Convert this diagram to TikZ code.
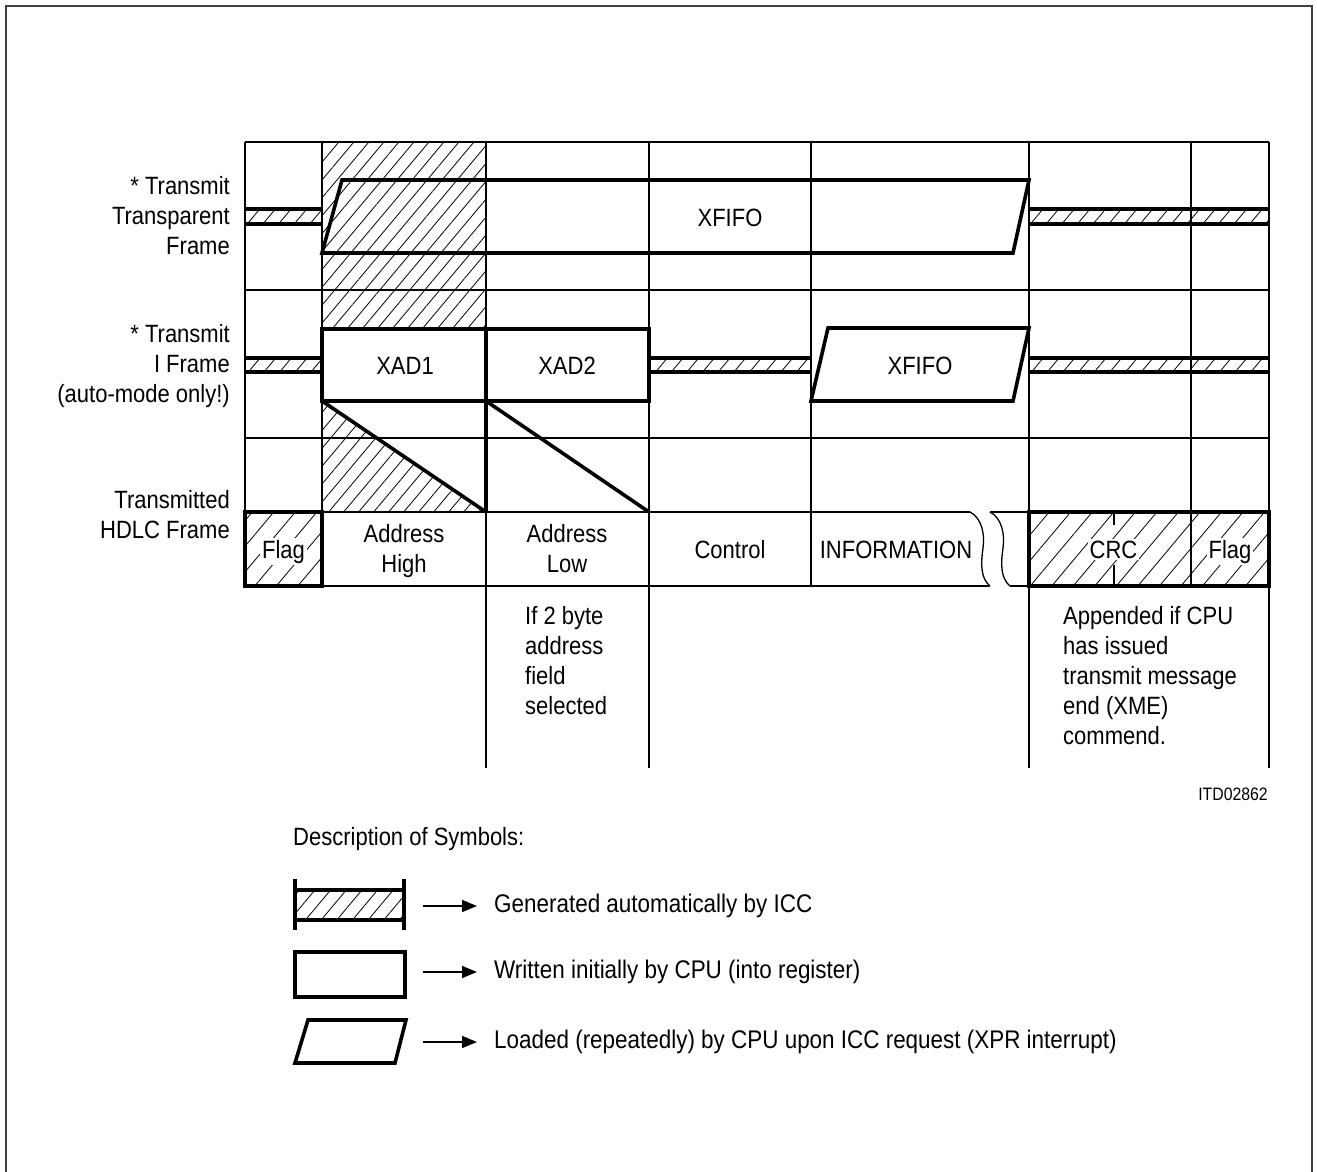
\documentclass[tikz,border=0pt]{standalone}
\usepackage{fontspec}
\setmainfont{Liberation Sans}[FakeStretch=0.88]
\usetikzlibrary{patterns.meta,arrows.meta}
\begin{document}
\begin{tikzpicture}[x=1pt,y=-1pt,
  gridline/.style={line width=1.3pt},
  boldline/.style={line width=3.6pt},
  framestyle/.style={line width=1.5pt,black!75},
  hatchcol/.style={pattern={Lines[angle=50,distance=11.5pt,line width=0.8pt]}},
  hatchband/.style={pattern={Lines[angle=50,distance=12pt,line width=0.8pt]}},
  hatchbox/.style={pattern={Lines[angle=50,distance=16.5pt,line width=0.8pt]}},
  lbl/.style={font=\fontsize{25}{30}\selectfont, inner sep=0pt},
  leglbl/.style={font=\fontsize{25.5}{30}\selectfont, inner sep=0pt},
  smalllbl/.style={font=\fontsize{18}{22}\selectfont, inner sep=0pt},
  legarrow/.style={line width=1.3pt,-{Triangle[length=15pt,width=12pt]},shorten >=17pt},
]
\useasboundingbox (0,0) rectangle (1317,1172);
% outer frame
\draw[framestyle] (6,1172) -- (6,6) -- (1312,6) -- (1312,1172);

% hatched areas
\path[hatchcol] (322,142) rectangle (486,329);
\path[hatchcol] (322,401) -- (486,512) -- (322,512) -- cycle;
\path[hatchbox] (245,512) rectangle (322,586);
\path[hatchbox] (1029,512) rectangle (1269,586);
\foreach \xa/\xb/\ya/\yb in {245/322/209/224, 1029/1269/209/224, 245/322/358/372, 649/811/358/372, 1029/1269/358/372} {
  \path[hatchband] (\xa,\ya) rectangle (\xb,\yb);
  \draw[boldline] (\xa,\ya) -- (\xb,\ya) (\xa,\yb) -- (\xb,\yb);
}

% grid
\draw[gridline] (245,142) -- (1269,142) (245,290) -- (1269,290) (245,438) -- (1269,438);
\draw[gridline] (245,512) -- (970,512) (990,512) -- (1269,512);
\draw[gridline] (245,586) -- (990,586) (1010,586) -- (1269,586);
\draw[gridline] (245,142) -- (245,586) (322,142) -- (322,586) (811,142) -- (811,586) (1191,142) -- (1191,586);
\draw[gridline] (486,142) -- (486,768) (649,142) -- (649,768) (1029,142) -- (1029,768) (1269,142) -- (1269,768);
% wavy break
\draw[gridline] (970,512) .. controls (982,518) and (985,535) .. (983,548) .. controls (981,562) and (980,578) .. (990,586);
\draw[gridline] (990,512) .. controls (1002,518) and (1005,535) .. (1003,548) .. controls (1001,562) and (1000,578) .. (1010,586);
% CRC ticks
\draw[gridline] (1114,512) -- (1114,525) (1114,565) -- (1114,586);

% bold shapes
\draw[boldline] (322,253) -- (342,180) -- (1029,180) -- (1013,253) -- cycle;
\draw[boldline] (322,329) rectangle (486,401);
\draw[boldline] (486,329) rectangle (649,401);
\draw[boldline] (811,401) -- (828,328) -- (1029,328) -- (1013,401) -- cycle;
\draw[boldline] (322,401) -- (486,512);
\draw[boldline] (486,401) -- (486,512);
\draw[boldline] (486,401) -- (649,512);
\draw[boldline] (245,512) rectangle (322,586);
\draw[boldline] (1029,512) rectangle (1269,586);

% row labels
\node[lbl, align=right, anchor=north east] (lblT) at (230,176) {* Transmit\\Transparent\\Frame};
\node[lbl, align=right, anchor=north east] (lblI) at (230,324) {* Transmit\\I Frame\\(auto-mode only!)};
\node[lbl, align=right, anchor=north east] (lblH) at (230,490) {Transmitted\\HDLC Frame};

% texts in diagram
\node[lbl, anchor=base] (xfifoT) at (730,226) {XFIFO};
\node[lbl, anchor=base] (xad1) at (405,374) {XAD1};
\node[lbl, anchor=base] (xad2) at (567,374) {XAD2};
\node[lbl, anchor=base] (xfifoI) at (920,374) {XFIFO};
\node[lbl, anchor=base, fill=white, inner sep=2pt] (flag1) at (283.5,558) {Flag};
\node[lbl, align=center, anchor=north] (addrH) at (404,524) {Address\\High};
\node[lbl, align=center, anchor=north] (addrL) at (567,524) {Address\\Low};
\node[lbl, anchor=base] (ctrl) at (730,558) {Control};
\node[lbl, anchor=base] (info) at (896,558) {INFORMATION};
\node[lbl, anchor=base, fill=white, inner sep=2pt] (crc) at (1113.5,558) {CRC};
\node[lbl, anchor=base, fill=white, inner sep=2pt] (flag2) at (1230,558) {Flag};

\node[lbl, align=left, anchor=north west] (note1) at (525,606) {If 2 byte\\address\\field\\selected};
\node[lbl, align=left, anchor=north west] (note2) at (1063,606) {Appended if CPU\\has issued\\transmit message\\end (XME)\\commend.};
\node[smalllbl, anchor=base east] (itd) at (1268,800) {ITD02862};

% legend
\node[lbl, anchor=base west] (desc) at (293,845) {Description of Symbols:};
\path[hatchband] (295,890) rectangle (404,920);
\draw[boldline] (295,890) -- (404,890) (295,920) -- (404,920);
\draw[boldline] (295,879) -- (295,930) (404,879) -- (404,930);
\draw[boldline] (295,952) rectangle (405,997);
\draw[boldline] (295,1063) -- (308,1020) -- (406,1020) -- (395,1063) -- cycle;

\coordinate (a1) at (423,906);
\coordinate (a2) at (423,972);
\coordinate (a3) at (423,1042);
\node[leglbl, anchor=base west] (t1) at (494,912) {Generated automatically by ICC};
\node[leglbl, anchor=base west] (t2) at (494,978) {Written initially by CPU (into register)};
\node[leglbl, anchor=base west] (t3) at (494,1048) {Loaded (repeatedly) by CPU upon ICC request (XPR interrupt)};
\draw[legarrow] (a1) -- (a1 -| t1.west);
\draw[legarrow] (a2) -- (a2 -| t2.west);
\draw[legarrow] (a3) -- (a3 -| t3.west);
\end{tikzpicture}
\end{document}
